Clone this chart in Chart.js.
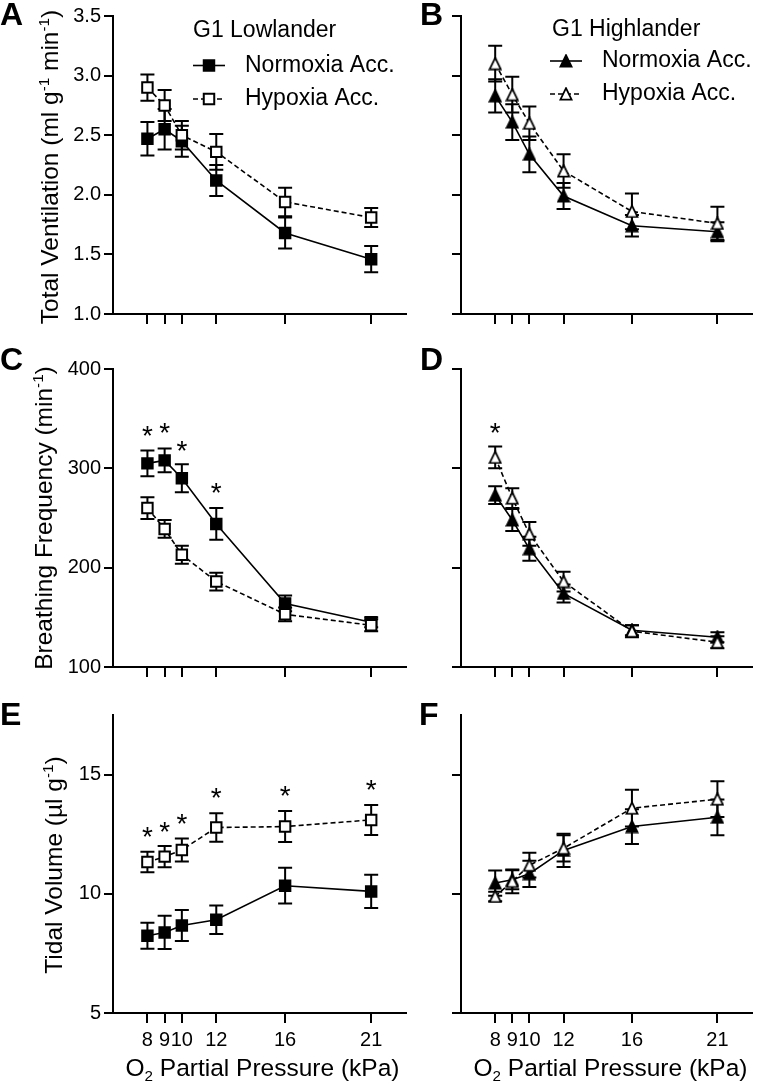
<!DOCTYPE html>
<html>
<head>
<meta charset="utf-8">
<script src="https://cdn.jsdelivr.net/npm/chart.js@4.4.1/dist/chart.umd.min.js"></script>
<style>
  body { margin: 0; background: #fff; width: 761px; height: 1084px; position: relative; overflow: hidden;
         font-family: 'Liberation Sans', Arial, sans-serif; color: #000; }
  canvas { position: absolute; }
  .lbl { position: absolute; font-weight: bold; font-size: 32px; line-height: 1; }
  .ytitle { position: absolute; font-size: 24.5px; line-height: 1; white-space: nowrap;
            transform: translate(-50%, -50%) rotate(-90deg); }
  .xtitle { position: absolute; font-size: 24.5px; line-height: 1; white-space: nowrap; transform: translateX(-50%); }
  sup { font-size: 62%; vertical-align: 0.6em; line-height: 0; }
  sub { font-size: 62%; vertical-align: -0.35em; line-height: 0; }
</style>
</head>
<body>
<canvas id="cA" width="415" height="340" style="left:0;top:0"></canvas>
<canvas id="cB" width="381" height="340" style="left:380px;top:0"></canvas>
<canvas id="cC" width="415" height="340" style="left:0;top:345px"></canvas>
<canvas id="cD" width="381" height="340" style="left:380px;top:345px"></canvas>
<canvas id="cE" width="415" height="385" style="left:0;top:699px"></canvas>
<canvas id="cF" width="381" height="385" style="left:380px;top:699px"></canvas>

<div class="lbl" style="left:0;top:-2px">A</div>
<div class="lbl" style="left:420px;top:-2px">B</div>
<div class="lbl" style="left:0;top:343px">C</div>
<div class="lbl" style="left:420px;top:343px">D</div>
<div class="lbl" style="left:0;top:698px">E</div>
<div class="lbl" style="left:419px;top:698px">F</div>

<div class="ytitle" style="left:49.5px;top:167px">Total Ventilation (ml g<sup>-1</sup> min<sup>-1</sup>)</div>
<div class="ytitle" style="left:43.5px;top:518px">Breathing Frequency (min<sup>-1</sup>)</div>
<div class="ytitle" style="left:53.5px;top:865px">Tidal Volume (µl g<sup>-1</sup>)</div>
<div class="xtitle" style="left:262.5px;top:1056px">O<sub>2</sub> Partial Pressure (kPa)</div>
<div class="xtitle" style="left:610.5px;top:1056px">O<sub>2</sub> Partial Pressure (kPa)</div>

<script>
// O2 partial pressures (kPa)
const pressures = [8, 9, 10, 12, 16, 21];

// A: total ventilation, G1 lowlander
const ventLowNorm = [2.47, 2.55, 2.45, 2.12, 1.68, 1.46];
const ventLowNormSem = [0.14, 0.17, 0.13, 0.13, 0.13, 0.11];
const ventLowHyp = [2.90, 2.75, 2.50, 2.36, 1.94, 1.81];
const ventLowHypSem = [0.11, 0.13, 0.12, 0.15, 0.12, 0.08];

// B: total ventilation, G1 highlander
const ventHighNorm = [2.83, 2.61, 2.34, 1.99, 1.74, 1.69];
const ventHighNormSem = [0.14, 0.15, 0.15, 0.11, 0.09, 0.08];
const ventHighHyp = [3.10, 2.84, 2.60, 2.20, 1.86, 1.76];
const ventHighHypSem = [0.15, 0.15, 0.14, 0.14, 0.15, 0.14];

// C: breathing frequency, lowlander
const freqLowNorm = [305, 308, 290, 244, 164, 145];
const freqLowNormSem = [13, 12, 14, 16, 8, 5];
const freqLowHyp = [260, 239, 213, 186, 153, 142];
const freqLowHypSem = [11, 9, 9, 9, 7, 6];
const starsCx = [8, 9, 10, 12];
const starsCy = [340, 343, 325, 282];

// D: breathing frequency, highlander
const freqHighNorm = [273, 248, 219, 174, 137, 130];
const freqHighNormSem = [9, 11, 12, 9, 5, 5];
const freqHighHyp = [311, 270, 234, 186, 136, 125];
const freqHighHypSem = [11, 10, 12, 10, 6, 6];
const starsDx = [8];
const starsDy = [343];

// E: tidal volume, lowlander
const tvLowNorm = [8.24, 8.38, 8.67, 8.91, 10.34, 10.10];
const tvLowNormSem = [0.55, 0.7, 0.65, 0.6, 0.75, 0.7];
const tvLowHyp = [11.33, 11.56, 11.84, 12.78, 12.82, 13.10];
const tvLowHypSem = [0.43, 0.45, 0.48, 0.6, 0.65, 0.63];
const starsEx = [8, 9, 10, 12, 16, 21];
const starsEy = [12.68, 12.89, 13.24, 14.32, 14.41, 14.66];

// F: tidal volume, highlander
const tvHighNorm = [10.45, 10.59, 10.84, 11.82, 12.82, 13.21];
const tvHighNormSem = [0.53, 0.4, 0.55, 0.7, 0.73, 0.75];
const tvHighHyp = [9.89, 10.52, 11.20, 11.91, 13.59, 13.97];
const tvHighHypSem = [0.2, 0.5, 0.52, 0.55, 0.77, 0.75];

const ventTicks = [1.0, 1.5, 2.0, 2.5, 3.0, 3.5];
const freqTicks = [100, 200, 300, 400];
const tvTicks = [5, 10, 15];

Chart.defaults.font.family = "'Liberation Sans', Arial, sans-serif";
Chart.defaults.color = '#000';

function triangle(fill) {
  const c = document.createElement('canvas');
  c.width = 14; c.height = 14;
  const g = c.getContext('2d');
  g.beginPath();
  g.moveTo(7, 1.2);
  g.lineTo(12.6, 12.6);
  g.lineTo(1.4, 12.6);
  g.closePath();
  g.fillStyle = fill;
  g.fill();
  g.lineWidth = 1.8;
  g.strokeStyle = '#000';
  g.stroke();
  return c;
}
const triFilled = triangle('#000');
const triOpen = triangle('#fff');

// error bars (SEM) drawn under the markers
const errorBars = {
  id: 'errorBars',
  beforeDatasetsDraw(chart) {
    const { ctx } = chart;
    const x = chart.scales.x, y = chart.scales.y;
    ctx.save();
    ctx.strokeStyle = '#000';
    ctx.lineWidth = 2;
    chart.data.datasets.forEach(ds => {
      ds.data.forEach((p, i) => {
        const px = x.getPixelForValue(p.x);
        const top = y.getPixelForValue(p.y + ds.err[i]);
        const bot = y.getPixelForValue(p.y - ds.err[i]);
        ctx.beginPath();
        ctx.moveTo(px, top); ctx.lineTo(px, bot);
        ctx.moveTo(px - 7, top); ctx.lineTo(px + 7, top);
        ctx.moveTo(px - 7, bot); ctx.lineTo(px + 7, bot);
        ctx.stroke();
      });
    });
    ctx.restore();
  }
};

const stars = {
  id: 'stars',
  afterDatasetsDraw(chart, args, opts) {
    if (!opts.xs) return;
    const { ctx } = chart;
    ctx.save();
    ctx.font = "28px 'Liberation Sans', Arial, sans-serif";
    ctx.textAlign = 'center';
    ctx.textBaseline = 'alphabetic';
    ctx.fillStyle = '#000';
    opts.xs.forEach((xv, i) => {
      const px = chart.scales.x.getPixelForValue(xv);
      const py = chart.scales.y.getPixelForValue(opts.ys[i]);
      ctx.fillText('*', px, py + 0.573 * 28);
    });
    ctx.restore();
  }
};

function drawMarker(ctx, ds, x, y) {
  if (ds.pointStyle instanceof HTMLCanvasElement) {
    ctx.drawImage(ds.pointStyle, x - 7, y - 7);
    return;
  }
  const h = ds.pointRadius * Math.SQRT1_2;
  ctx.fillStyle = ds.pointBackgroundColor;
  ctx.strokeStyle = '#000';
  ctx.lineWidth = ds.pointBorderWidth;
  ctx.beginPath();
  ctx.rect(x - h, y - h, 2 * h, 2 * h);
  ctx.fill();
  ctx.stroke();
}

const panelLegend = {
  id: 'panelLegend',
  afterDraw(chart, args, opts) {
    if (!opts.title) return;
    const { ctx } = chart;
    ctx.save();
    ctx.fillStyle = '#000';
    ctx.font = "23px 'Liberation Sans', Arial, sans-serif";
    ctx.textBaseline = 'middle';
    ctx.fillText(opts.title, opts.tx, opts.ty[0]);
    const order = [chart.data.datasets[1], chart.data.datasets[0]];
    order.forEach((ds, i) => {
      const yy = opts.ty[i + 1];
      ctx.strokeStyle = '#000';
      ctx.lineWidth = 1.6;
      ctx.setLineDash(ds.borderDash || []);
      ctx.beginPath();
      ctx.moveTo(opts.lx, yy);
      ctx.lineTo(opts.lx + 32, yy);
      ctx.stroke();
      ctx.setLineDash([]);
      drawMarker(ctx, ds, opts.lx + 16, yy);
      ctx.fillStyle = '#000';
      ctx.fillText(ds.label, opts.textX, yy);
    });
    ctx.restore();
  }
};

function panel(id, o) {
  const leftCol = o.leftCol;
  const rectR = 7.4;
  new Chart(document.getElementById(id), {
    type: 'line',
    data: {
      datasets: [
        {
          label: 'Hypoxia Acc.',
          data: pressures.map((p, i) => ({ x: p, y: o.hyp[i] })),
          err: o.hypSem,
          borderColor: '#000', borderWidth: 1.6, borderDash: [5, 3],
          pointStyle: o.tri ? triOpen : 'rect', pointRadius: rectR,
          pointBackgroundColor: '#fff', pointBorderColor: '#000', pointBorderWidth: 2,
          tension: 0
        },
        {
          label: 'Normoxia Acc.',
          data: pressures.map((p, i) => ({ x: p, y: o.norm[i] })),
          err: o.normSem,
          borderColor: '#000', borderWidth: 1.6,
          pointStyle: o.tri ? triFilled : 'rect', pointRadius: rectR,
          pointBackgroundColor: '#000', pointBorderColor: '#000', pointBorderWidth: 2,
          tension: 0
        }
      ]
    },
    options: {
      responsive: false,
      animation: false,
      events: [],
      layout: { padding: { top: o.padTop, right: leftCol ? 3 : 1, left: 0, bottom: 0 } },
      plugins: {
        legend: { display: false },
        tooltip: { enabled: false },
        panelLegend: o.legend || {},
        stars: o.stars || {}
      },
      scales: {
        x: {
          type: 'linear', min: 6, max: 23,
          afterBuildTicks: s => { s.ticks = pressures.map(v => ({ value: v })); },
          afterFit: s => { s.height = o.xh; },
          border: { display: true, color: '#000', width: 2 },
          grid: { display: true, drawOnChartArea: false, drawTicks: true, tickLength: 10, color: '#000', lineWidth: 2 },
          ticks: { autoSkip: false, maxRotation: 0, minRotation: 0, padding: 5, font: { size: 20 },
                   callback: v => o.xLabels ? String(v) : '' }
        },
        y: {
          type: 'linear', min: o.ymin, max: o.ymax,
          afterBuildTicks: s => { s.ticks = o.yTicks.map(v => ({ value: v })); },
          afterFit: s => { s.width = leftCol ? 113 : 81; },
          border: { display: true, color: '#000', width: 2 },
          grid: { display: true, drawOnChartArea: false, drawTicks: true, tickLength: 9, color: '#000', lineWidth: 2 },
          ticks: { padding: 3, font: { size: 20 },
                   callback: v => leftCol ? (o.dec ? v.toFixed(1) : String(v)) : '' }
        }
      }
    },
    plugins: [errorBars, stars, panelLegend]
  });
}

panel('cA', { leftCol: true, padTop: 16, xh: 26, ymin: 1, ymax: 3.5, yTicks: ventTicks, dec: true,
  norm: ventLowNorm, normSem: ventLowNormSem, hyp: ventLowHyp, hypSem: ventLowHypSem,
  legend: { title: 'G1 Lowlander', tx: 193, ty: [31, 65.5, 99], lx: 193, textX: 245 } });
panel('cB', { leftCol: false, padTop: 16, xh: 26, ymin: 1, ymax: 3.5, yTicks: ventTicks, tri: true,
  norm: ventHighNorm, normSem: ventHighNormSem, hyp: ventHighHyp, hypSem: ventHighHypSem,
  legend: { title: 'G1 Highlander', tx: 172, ty: [29.5, 61, 94], lx: 170, textX: 222 } });
panel('cC', { leftCol: true, padTop: 24, xh: 18, ymin: 100, ymax: 400, yTicks: freqTicks,
  norm: freqLowNorm, normSem: freqLowNormSem, hyp: freqLowHyp, hypSem: freqLowHypSem,
  stars: { xs: starsCx, ys: starsCy } });
panel('cD', { leftCol: false, padTop: 24, xh: 18, ymin: 100, ymax: 400, yTicks: freqTicks, tri: true,
  norm: freqHighNorm, normSem: freqHighNormSem, hyp: freqHighHyp, hypSem: freqHighHypSem,
  stars: { xs: starsDx, ys: starsDy } });
panel('cE', { leftCol: true, padTop: 16, xh: 71, ymin: 5, ymax: 17.5, yTicks: tvTicks, xLabels: true,
  norm: tvLowNorm, normSem: tvLowNormSem, hyp: tvLowHyp, hypSem: tvLowHypSem,
  stars: { xs: starsEx, ys: starsEy } });
panel('cF', { leftCol: false, padTop: 16, xh: 71, ymin: 5, ymax: 17.5, yTicks: tvTicks, xLabels: true, tri: true,
  norm: tvHighNorm, normSem: tvHighNormSem, hyp: tvHighHyp, hypSem: tvHighHypSem });
</script>
</body>
</html>
